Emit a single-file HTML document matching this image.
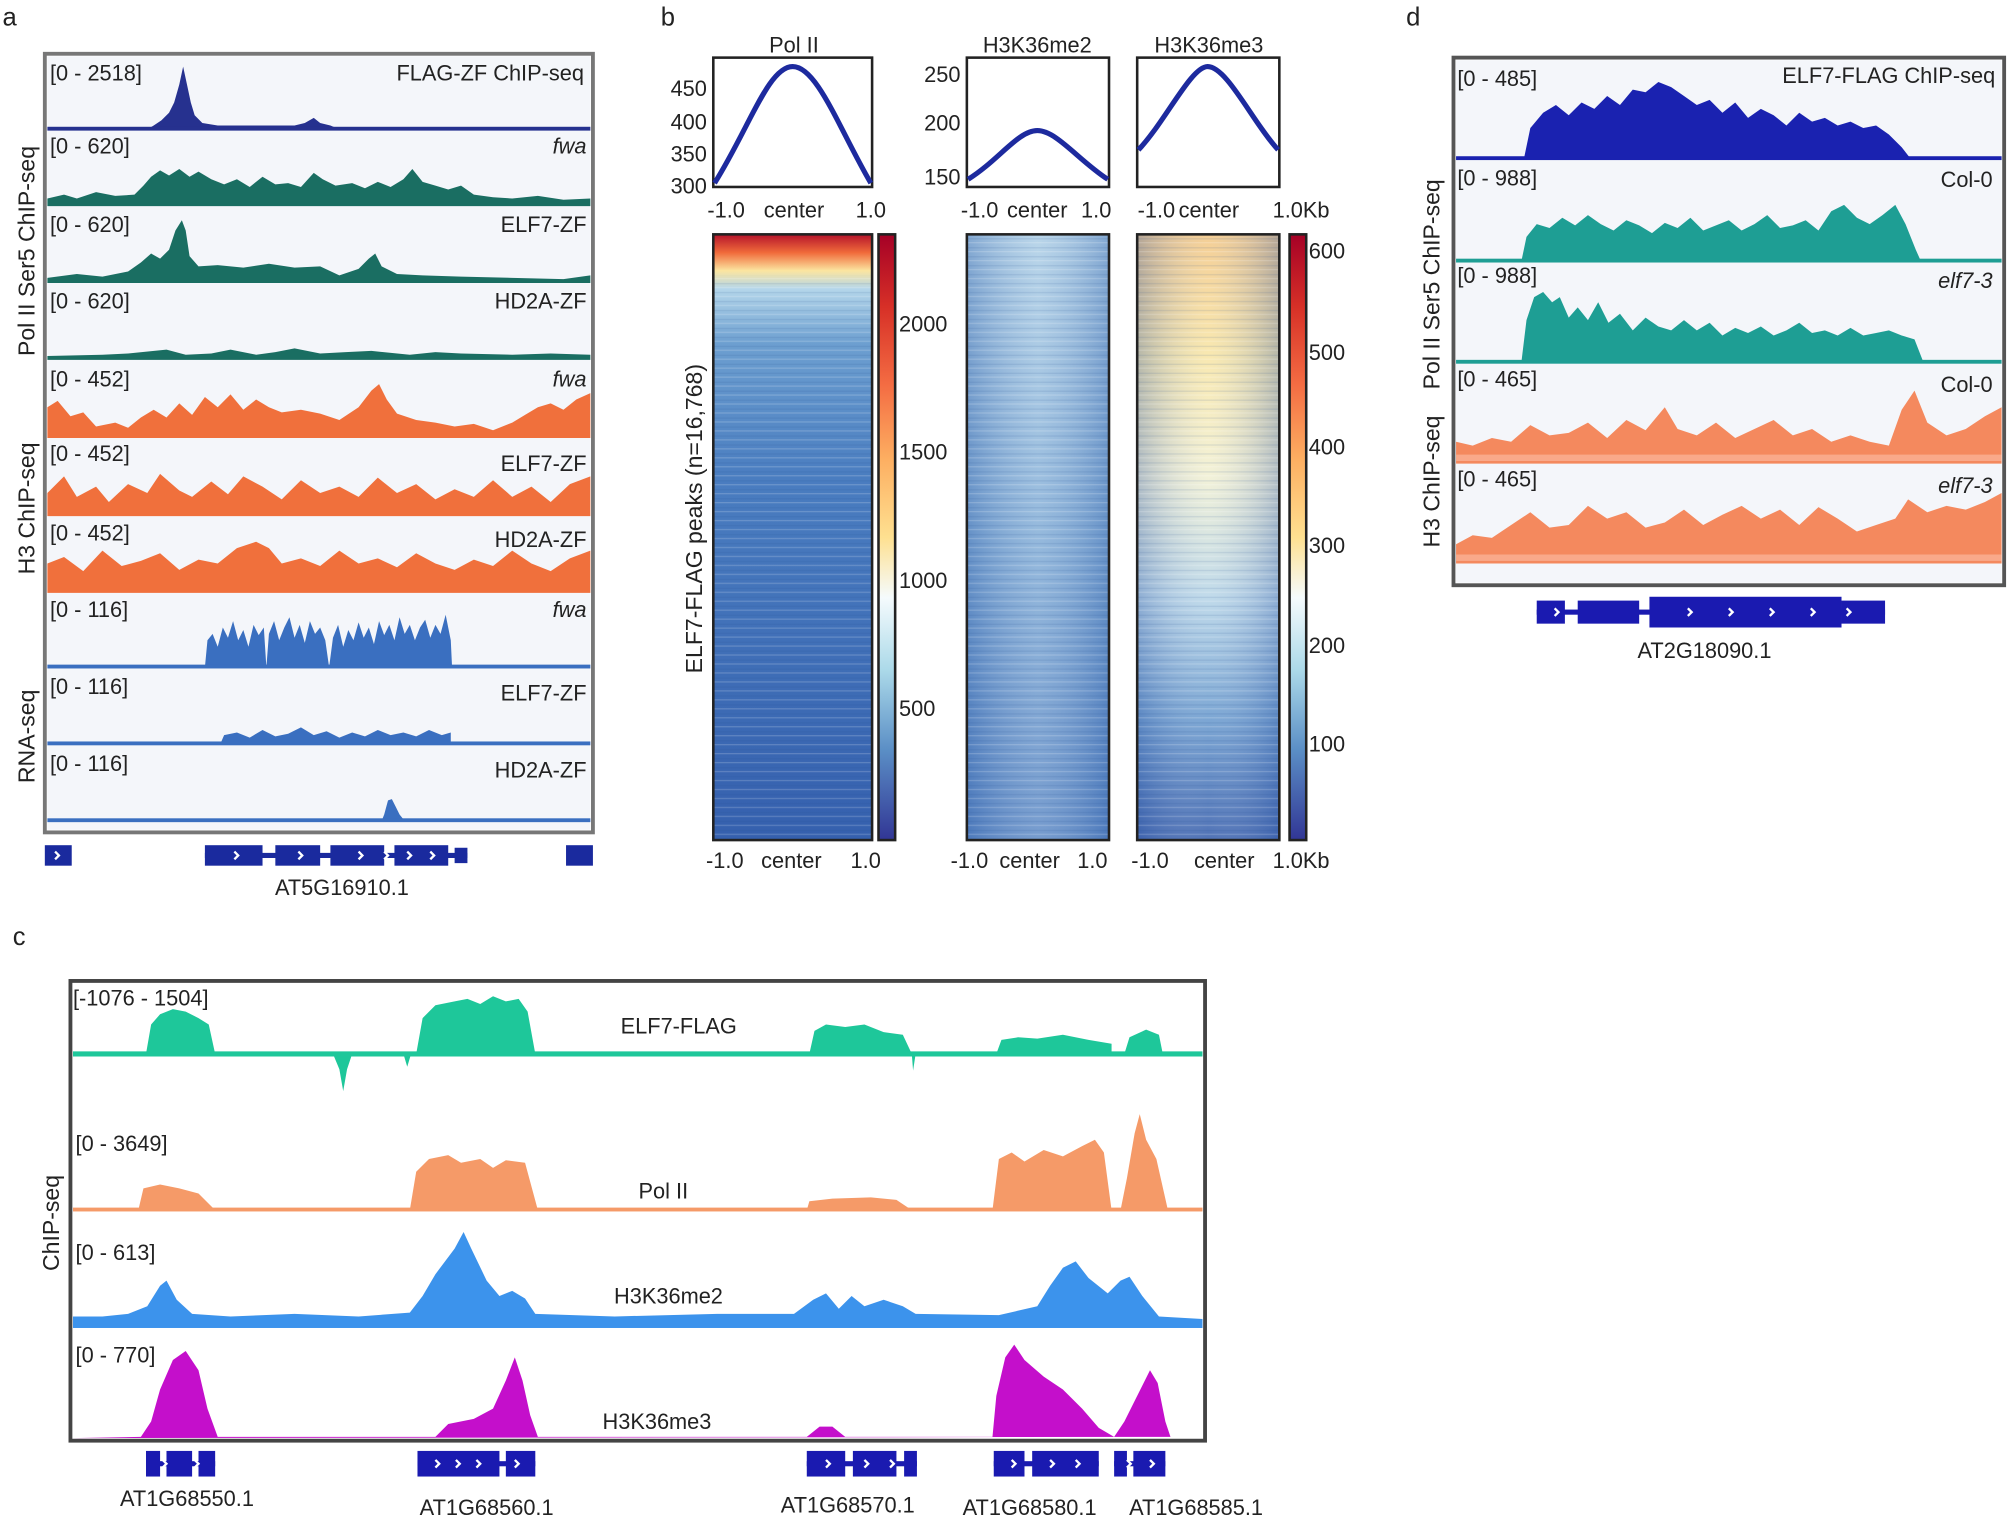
<!DOCTYPE html>
<html><head><meta charset="utf-8"><style>
html,body{margin:0;padding:0;background:#fff}
svg{display:block}
text{font-family:"Liberation Sans",Arial,sans-serif;fill:#222}
</style></head><body>
<svg width="2008" height="1517" viewBox="0 0 1568 1184.6" xmlns="http://www.w3.org/2000/svg">
<defs>
<linearGradient id="cb" x1="0" y1="0" x2="0" y2="1">
<stop offset="0" stop-color="#a50026"/><stop offset="0.12" stop-color="#d73027"/><stop offset="0.25" stop-color="#f46d43"/><stop offset="0.37" stop-color="#fdae61"/><stop offset="0.5" stop-color="#fee090"/><stop offset="0.6" stop-color="#f5fbfd"/><stop offset="0.72" stop-color="#abd9e9"/><stop offset="0.85" stop-color="#5b8fc6"/><stop offset="1" stop-color="#313695"/>
</linearGradient>
<linearGradient id="h1" x1="0" y1="0" x2="0" y2="1">
<stop offset="0" stop-color="#b5132b"/><stop offset="0.03" stop-color="#f06a3a"/><stop offset="0.06" stop-color="#fbe5a0"/><stop offset="0.09" stop-color="#b4d6ea"/><stop offset="0.18" stop-color="#6d9fd0"/><stop offset="0.4" stop-color="#4a7dc0"/><stop offset="1" stop-color="#3560ae"/>
</linearGradient>
<linearGradient id="h2" x1="0" y1="0" x2="0" y2="1">
<stop offset="0" stop-color="#a8cbe4"/><stop offset="0.5" stop-color="#7ba8d4"/><stop offset="1" stop-color="#5483c2"/>
</linearGradient>
<linearGradient id="h2x" x1="0" y1="0" x2="1" y2="0">
<stop offset="0" stop-color="#3a64ae" stop-opacity="0.35"/><stop offset="0.5" stop-color="#fff" stop-opacity="0.2"/><stop offset="1" stop-color="#3a64ae" stop-opacity="0.35"/>
</linearGradient>
<linearGradient id="h3" x1="0" y1="0" x2="0" y2="1">
<stop offset="0" stop-color="#f3c98a"/><stop offset="0.2" stop-color="#f8e6a8"/><stop offset="0.4" stop-color="#f1f0d4"/><stop offset="0.6" stop-color="#b9d6e8"/><stop offset="0.8" stop-color="#6e9dcf"/><stop offset="1" stop-color="#3d63ae"/>
</linearGradient>
<linearGradient id="h3x" x1="0" y1="0" x2="1" y2="0">
<stop offset="0" stop-color="#3a5fab" stop-opacity="0.35"/><stop offset="0.5" stop-color="#fff" stop-opacity="0.1"/><stop offset="1" stop-color="#3a5fab" stop-opacity="0.35"/>
</linearGradient>
<pattern id="strp" width="8" height="7" patternUnits="userSpaceOnUse">
<rect x="0" y="0" width="8" height="1" fill="#ffffff" opacity="0.18"/><rect x="0" y="4" width="8" height="1" fill="#24488f" opacity="0.12"/>
</pattern>
</defs>

<!-- backgrounds -->
<rect x="37" y="44" width="424" height="604" fill="#f4f6fa"/>
<rect x="1137" y="47" width="426" height="408" fill="#f4f6fa"/>

<!-- panel a tracks -->
<path fill="#26318f" d="M37,101 L115,101 L120,98 L126,94 L132,88 L136,80 L140,66 L143,52 L146,66 L149,80 L152,90 L158,96 L170,98 L230,98 L238,96 L245,92 L250,96 L258,98 L265,101 L461,101 Z"/>
<rect x="37" y="99" width="424" height="3" fill="#26318f"/>
<path fill="#1a6e62" d="M37,161 L37,155 L50,152 L60,155 L75,150 L90,153 L105,152 L112,145 L118,138 L125,133 L132,137 L140,132 L148,138 L155,134 L165,140 L175,144 L185,140 L195,146 L205,138 L215,144 L225,143 L235,146 L245,135 L252,140 L262,145 L275,143 L285,147 L295,142 L305,146 L315,140 L322,132 L330,142 L340,145 L350,148 L360,145 L370,152 L385,154 L400,155 L420,153 L440,156 L461,155 L461,161 Z"/>
<path fill="#1a6e62" d="M37,221 L37,217 L60,214 L80,216 L100,212 L110,205 L118,198 L125,202 L132,195 L137,180 L142,172 L145,180 L148,200 L155,208 L170,207 L190,209 L210,206 L230,209 L250,208 L265,215 L280,210 L288,202 L293,198 L298,208 L310,214 L330,215 L360,216 L400,217 L440,218 L461,215 L461,221 Z"/>
<path fill="#1a6e62" d="M37,281 L37,278 L80,277 L100,276 L130,273 L145,277 L165,276 L180,273 L200,277 L215,275 L230,272 L250,276 L270,275 L290,274 L320,277 L340,275 L360,276 L400,277 L430,276 L461,277 L461,281 Z"/>
<path fill="#f0703c" d="M37,342 L37,318 L45,313 L55,325 L65,322 L75,333 L90,330 L100,334 L110,326 L120,320 L130,326 L140,315 L150,324 L160,310 L170,318 L180,308 L190,320 L200,312 L210,318 L220,322 L235,320 L250,323 L265,328 L280,318 L290,305 L296,300 L302,312 L310,323 L325,328 L340,330 L355,333 L370,331 L385,336 L400,330 L410,324 L420,318 L430,315 L440,320 L450,312 L461,307 L461,342 Z"/>
<path fill="#f0703c" d="M37,403 L37,385 L50,372 L60,388 L75,380 L85,392 L100,378 L115,385 L125,370 L140,383 L150,388 L165,376 L178,386 L190,372 L205,380 L220,390 L235,375 L250,385 L265,380 L280,388 L295,373 L310,385 L325,378 L340,390 L355,382 L370,388 L385,375 L400,388 L415,380 L430,392 L445,378 L461,372 L461,403 Z"/>
<path fill="#f0703c" d="M37,463 L37,440 L50,435 L65,446 L80,430 L95,442 L110,438 L125,432 L140,445 L155,437 L170,440 L185,428 L200,423 L210,428 L220,440 L235,436 L250,442 L265,430 L280,440 L295,436 L310,443 L325,432 L340,440 L355,445 L370,437 L385,442 L400,430 L415,440 L430,446 L445,436 L461,430 L461,463 Z"/>
<path fill="#3a6fc0" d="M160,521 L162,500 L166,495 L170,505 L174,490 L178,498 L182,485 L186,500 L190,492 L194,505 L198,488 L202,496 L206,490 L208,521 L210,495 L214,485 L218,500 L222,490 L226,482 L230,498 L234,488 L238,502 L242,485 L246,495 L250,490 L254,500 L257,521 L260,498 L264,488 L268,505 L272,492 L276,500 L280,486 L284,498 L288,490 L292,503 L296,485 L300,496 L304,488 L308,500 L312,482 L316,495 L320,488 L324,500 L328,490 L332,484 L336,498 L340,488 L344,495 L348,480 L352,500 L353,521 Z"/>
<rect x="37" y="519" width="424" height="3" fill="#3a6fc0"/>
<path fill="#3a6fc0" d="M172,581 L175,574 L185,572 L195,576 L205,570 L215,575 L225,573 L235,568 L245,574 L255,571 L265,576 L275,572 L285,575 L295,570 L305,574 L315,572 L325,575 L335,570 L345,574 L352,572 L352,581 Z"/>
<rect x="37" y="579" width="424" height="3" fill="#3a6fc0"/>
<path fill="#3a6fc0" d="M298,641 L300,636 L303,625 L306,624 L309,630 L312,636 L316,641 Z"/>
<rect x="37" y="639" width="424" height="3" fill="#3a6fc0"/>

<!-- panel d tracks -->
<path fill="#1a22b0" d="M1190,124 L1195,100 L1205,88 L1215,82 L1225,90 L1235,80 L1245,85 L1255,75 L1265,82 L1275,70 L1285,72 L1295,64 L1305,68 L1315,75 L1325,82 L1335,78 L1345,88 L1355,80 L1365,92 L1375,85 L1385,90 L1395,98 L1405,88 L1415,95 L1425,92 L1435,98 L1445,95 L1455,100 L1465,98 L1475,105 L1485,115 L1492,124 Z"/>
<rect x="1137" y="122" width="426" height="3" fill="#1a22b0"/>
<path fill="#1e9e94" d="M1188,204 L1192,185 L1200,175 L1210,178 L1220,170 L1230,176 L1240,168 L1250,175 L1260,180 L1270,172 L1280,176 L1290,182 L1300,174 L1310,178 L1320,170 L1330,180 L1340,176 L1350,172 L1360,180 L1370,175 L1380,168 L1390,178 L1400,176 L1410,172 L1420,180 L1430,165 L1440,160 L1450,170 L1460,175 L1470,168 L1480,160 L1488,175 L1496,195 L1500,204 Z"/>
<rect x="1137" y="202" width="426" height="3" fill="#1e9e94"/>
<path fill="#1e9e94" d="M1188,283 L1192,250 L1198,232 L1205,228 L1212,236 L1218,232 L1225,248 L1232,240 L1240,250 L1248,236 L1256,252 L1265,245 L1275,258 L1285,248 L1295,255 L1305,258 L1315,250 L1325,258 L1335,252 L1345,262 L1355,256 L1365,260 L1375,255 L1385,262 L1395,258 L1405,252 L1415,260 L1425,258 L1435,262 L1445,256 L1455,262 L1465,260 L1475,258 L1485,262 L1495,265 L1502,283 Z"/>
<rect x="1137" y="281" width="426" height="3" fill="#1e9e94"/>
<path fill="#f4895e" d="M1137,362 L1137,345 L1150,348 L1165,342 L1180,345 L1195,332 L1210,340 L1225,338 L1240,330 L1255,342 L1270,328 L1285,336 L1300,318 L1310,335 L1325,340 L1340,330 L1355,342 L1370,335 L1385,328 L1400,340 L1415,335 L1430,345 L1445,340 L1460,345 L1475,348 L1485,320 L1495,305 L1505,330 L1520,340 L1535,335 L1550,325 L1563,318 L1563,362 Z"/>
<rect x="1137" y="355" width="426" height="5" fill="#f9a98a"/>
<path fill="#f4895e" d="M1137,440 L1137,425 L1150,418 L1165,420 L1180,410 L1195,400 L1210,412 L1225,410 L1240,395 L1255,405 L1270,400 L1285,412 L1300,408 L1315,398 L1330,410 L1345,402 L1360,395 L1375,405 L1390,398 L1405,410 L1420,396 L1435,405 L1450,415 L1465,410 L1480,405 L1490,390 L1505,400 L1520,395 L1535,398 L1550,392 L1563,385 L1563,440 Z"/>
<rect x="1137" y="433" width="426" height="5" fill="#f9a98a"/>

<!-- panel c tracks -->
<path fill="#1ec79a" d="M57,823 L114,823 L118,800 L125,792 L135,788 L145,790 L155,795 L163,800 L168,823 L260,823 L265,835 L268,852 L271,835 L275,823 L315,823 L318,833 L321,823 L325,823 L330,795 L340,785 L355,782 L365,780 L375,784 L385,778 L395,782 L405,780 L412,790 L418,823 L632,823 L636,805 L645,800 L660,802 L675,800 L690,806 L705,808 L712,823 L713,836 L715,823 L778,823 L782,812 L795,810 L810,811 L830,808 L850,812 L868,815 L868,823 L878,823 L882,810 L895,804 L905,808 L908,823 L939,823 Z"/>
<rect x="57" y="821" width="882" height="4" fill="#1ec79a"/>
<path fill="#f59a68" d="M57,945 L108,945 L112,928 L125,925 L140,928 L155,932 L168,945 L320,945 L325,915 L335,905 L350,902 L360,908 L375,905 L385,912 L395,906 L410,908 L420,945 L630,945 L632,938 L650,936 L680,935 L700,937 L712,945 L775,945 L780,905 L790,900 L800,907 L815,898 L830,903 L845,895 L855,890 L862,900 L868,945 L875,945 L880,920 L886,885 L890,870 L895,890 L903,905 L912,945 L939,945 Z"/>
<rect x="57" y="943" width="882" height="3" fill="#f59a68"/>
<path fill="#3c93ec" d="M57,1036 L57,1028 L80,1028 L100,1026 L115,1020 L125,1004 L130,1000 L138,1015 L150,1026 L180,1028 L230,1026 L280,1028 L320,1025 L330,1012 L340,995 L355,975 L362,962 L368,975 L380,1000 L390,1012 L400,1008 L410,1014 L418,1026 L480,1028 L560,1026 L620,1026 L635,1015 L645,1010 L655,1022 L665,1012 L675,1020 L690,1015 L705,1020 L715,1026 L780,1027 L810,1020 L820,1004 L830,990 L840,985 L850,998 L865,1010 L875,1000 L882,997 L892,1012 L905,1028 L939,1030 L939,1036 Z"/>
<rect x="57" y="1034" width="882" height="3" fill="#3c93ec"/>
<path fill="#c40fcb" d="M57,1123 L110,1122 L118,1110 L125,1085 L135,1062 L145,1055 L155,1070 L162,1100 L170,1122 L340,1122 L350,1112 L370,1108 L385,1100 L395,1078 L402,1060 L408,1078 L414,1105 L420,1122 L630,1122 L640,1114 L650,1114 L660,1122 L775,1122 L778,1090 L785,1060 L792,1050 L800,1062 L815,1075 L830,1085 L845,1100 L858,1115 L870,1122 L878,1110 L888,1090 L898,1070 L904,1080 L910,1110 L914,1122 L939,1122 Z"/>

<!-- gene models -->
<g fill="#1a2a9e">
<rect x="35" y="660" width="21" height="16"/>
<rect x="160" y="666" width="205" height="4"/>
<rect x="160" y="660" width="45" height="16"/><rect x="215" y="660" width="35" height="16"/><rect x="258" y="660" width="42" height="16"/><rect x="308" y="660" width="42" height="16"/><rect x="355" y="662" width="10" height="12"/>
<rect x="442" y="660" width="21" height="16"/>
</g>
<g fill="#1a1ab0">
<rect x="1200" y="476" width="272" height="4"/>
<rect x="1200" y="469" width="22" height="18"/><rect x="1232" y="469" width="48" height="18"/><rect x="1288" y="466" width="150" height="24"/><rect x="1438" y="469" width="34" height="18"/>
<rect x="114" y="1141" width="54" height="4"/><rect x="114" y="1133" width="11" height="20"/><rect x="130" y="1133" width="20" height="20"/><rect x="155" y="1133" width="13" height="20"/>
<rect x="326" y="1141" width="92" height="4"/><rect x="326" y="1133" width="64" height="20"/><rect x="395" y="1133" width="23" height="20"/>
<rect x="630" y="1141" width="86" height="4"/><rect x="630" y="1133" width="30" height="20"/><rect x="666" y="1133" width="34" height="20"/><rect x="706" y="1133" width="10" height="20"/>
<rect x="776" y="1141" width="82" height="4"/><rect x="776" y="1133" width="24" height="20"/><rect x="806" y="1133" width="52" height="20"/>
<rect x="870" y="1141" width="40" height="4"/><rect x="870" y="1133" width="10" height="20"/><rect x="885" y="1133" width="25" height="20"/>
</g>
<g fill="none" stroke="#fff" stroke-width="1.8">
<path d="M43,665 L46,668 L43,671"/>
<path d="M183,665 L186,668 L183,671 M233,665 L236,668 L233,671 M280,665 L283,668 L280,671 M300,665 L303,668 L300,671 M318,665 L321,668 L318,671 M336,665 L339,668 L336,671"/>
<path d="M1214,475 L1217,478 L1214,481 M1318,475 L1321,478 L1318,481 M1350,475 L1353,478 L1350,481 M1382,475 L1385,478 L1382,481 M1414,475 L1417,478 L1414,481 M1442,475 L1445,478 L1442,481"/>
<path d="M127,1140 L130,1143 L127,1146 M152,1140 L155,1143 L152,1146 M340,1140 L343,1143 L340,1146 M356,1140 L359,1143 L356,1146 M372,1140 L375,1143 L372,1146 M402,1140 L405,1143 L402,1146 M645,1140 L648,1143 L645,1146 M675,1140 L678,1143 L675,1146 M695,1140 L698,1143 L695,1146 M790,1140 L793,1143 L790,1146 M820,1140 L823,1143 L820,1146 M840,1140 L843,1143 L840,1146 M880,1140 L883,1143 L880,1146 M898,1140 L901,1143 L898,1146"/>
</g>

<!-- panel letters -->
<text x="2" y="20" font-size="20">a</text>
<text x="516" y="20" font-size="20">b</text>
<text x="1098" y="20" font-size="20">d</text>
<text x="10" y="738" font-size="20">c</text>

<!-- panel a labels -->
<rect x="35" y="42" width="428" height="608" fill="none" stroke="#777" stroke-width="3"/>
<g font-size="17">
<text x="39" y="63">[0 - 2518]</text><text x="456" y="63" text-anchor="end">FLAG-ZF ChIP-seq</text>
<text x="39" y="120">[0 - 620]</text><text x="458" y="120" text-anchor="end" font-style="italic">fwa</text>
<text x="39" y="181">[0 - 620]</text><text x="458" y="181" text-anchor="end">ELF7-ZF</text>
<text x="39" y="241">[0 - 620]</text><text x="458" y="241" text-anchor="end">HD2A-ZF</text>
<text x="39" y="302">[0 - 452]</text><text x="458" y="302" text-anchor="end" font-style="italic">fwa</text>
<text x="39" y="360">[0 - 452]</text><text x="458" y="368" text-anchor="end">ELF7-ZF</text>
<text x="39" y="422">[0 - 452]</text><text x="458" y="427" text-anchor="end">HD2A-ZF</text>
<text x="39" y="482">[0 - 116]</text><text x="458" y="482" text-anchor="end" font-style="italic">fwa</text>
<text x="39" y="542">[0 - 116]</text><text x="458" y="547" text-anchor="end">ELF7-ZF</text>
<text x="39" y="602">[0 - 116]</text><text x="458" y="607" text-anchor="end">HD2A-ZF</text>
</g>
<g font-size="18">
<text transform="translate(27,196) rotate(-90)" text-anchor="middle">Pol II Ser5 ChIP-seq</text>
<text transform="translate(27,397) rotate(-90)" text-anchor="middle">H3 ChIP-seq</text>
<text transform="translate(27,575) rotate(-90)" text-anchor="middle">RNA-seq</text>
</g>
<text x="267" y="699" font-size="17" text-anchor="middle">AT5G16910.1</text>

<!-- panel b -->
<g font-size="17">
<text x="620" y="41" text-anchor="middle">Pol II</text>
<text x="810" y="41" text-anchor="middle">H3K36me2</text>
<text x="944" y="41" text-anchor="middle">H3K36me3</text>
</g>
<g fill="none" stroke="#222" stroke-width="2">
<rect x="557" y="45" width="124" height="101"/>
<rect x="755" y="45" width="111" height="101"/>
<rect x="888" y="45" width="111" height="101"/>
</g>
<g fill="none" stroke="#1d2a9e" stroke-width="4">
<path d="M558,143 C585,100 600,52 619,52 C638,52 655,100 680,143"/>
<path d="M756,140 C780,125 795,102 810,102 C825,102 842,125 865,140"/>
<path d="M889,117 C910,95 930,52 943,52 C958,52 978,95 998,117"/>
</g>
<g font-size="17" text-anchor="end">
<text x="552" y="75">450</text><text x="552" y="101">400</text><text x="552" y="126">350</text><text x="552" y="151">300</text>
<text x="750" y="64">250</text><text x="750" y="102">200</text><text x="750" y="144">150</text>
</g>
<g font-size="17" text-anchor="middle">
<text x="567" y="170">-1.0</text><text x="620" y="170">center</text><text x="680" y="170">1.0</text>
<text x="765" y="170">-1.0</text><text x="810" y="170">center</text><text x="856" y="170">1.0</text>
<text x="903" y="170">-1.0</text><text x="944" y="170">center</text><text x="1016" y="170">1.0Kb</text>
<text x="566" y="678">-1.0</text><text x="618" y="678">center</text><text x="676" y="678">1.0</text>
<text x="757" y="678">-1.0</text><text x="804" y="678">center</text><text x="853" y="678">1.0</text>
<text x="898" y="678">-1.0</text><text x="956" y="678">center</text><text x="1016" y="678">1.0Kb</text>
</g>
<rect x="557" y="183" width="124" height="473" fill="url(#h1)"/>
<rect x="755" y="183" width="111" height="473" fill="url(#h2)"/>
<rect x="755" y="183" width="111" height="473" fill="url(#h2x)"/>
<rect x="888" y="183" width="111" height="473" fill="url(#h3)"/>
<rect x="888" y="183" width="111" height="473" fill="url(#h3x)"/>
<rect x="557" y="215" width="124" height="441" fill="url(#strp)"/>
<rect x="755" y="183" width="111" height="473" fill="url(#strp)"/>
<rect x="888" y="183" width="111" height="473" fill="url(#strp)"/>
<g fill="none" stroke="#222" stroke-width="2">
<rect x="557" y="183" width="124" height="473"/>
<rect x="755" y="183" width="111" height="473"/>
<rect x="888" y="183" width="111" height="473"/>
</g>
<rect x="686" y="183" width="13" height="473" fill="url(#cb)" stroke="#222" stroke-width="2"/>
<rect x="1007" y="183" width="13" height="473" fill="url(#cb)" stroke="#222" stroke-width="2"/>
<g font-size="17">
<text x="702" y="259">2000</text><text x="702" y="359">1500</text><text x="702" y="459">1000</text><text x="702" y="559">500</text>
<text x="1022" y="202">600</text><text x="1022" y="281">500</text><text x="1022" y="355">400</text><text x="1022" y="432">300</text><text x="1022" y="510">200</text><text x="1022" y="587">100</text>
</g>
<text transform="translate(548,405) rotate(-90)" font-size="18" text-anchor="middle">ELF7-FLAG peaks (n=16,768)</text>

<!-- panel d labels -->
<rect x="1135" y="45" width="430" height="412" fill="none" stroke="#555" stroke-width="3"/>
<g font-size="17">
<text x="1138" y="67">[0 - 485]</text><text x="1558" y="65" text-anchor="end">ELF7-FLAG ChIP-seq</text>
<text x="1138" y="145">[0 - 988]</text><text x="1556" y="146" text-anchor="end">Col-0</text>
<text x="1138" y="221">[0 - 988]</text><text x="1556" y="225" text-anchor="end" font-style="italic">elf7-3</text>
<text x="1138" y="302">[0 - 465]</text><text x="1556" y="306" text-anchor="end">Col-0</text>
<text x="1138" y="380">[0 - 465]</text><text x="1556" y="385" text-anchor="end" font-style="italic">elf7-3</text>
</g>
<g font-size="18">
<text transform="translate(1124,222) rotate(-90)" text-anchor="middle">Pol II Ser5 ChIP-seq</text>
<text transform="translate(1124,376) rotate(-90)" text-anchor="middle">H3 ChIP-seq</text>
</g>
<text x="1331" y="514" font-size="17" text-anchor="middle">AT2G18090.1</text>

<!-- panel c labels -->
<rect x="55" y="766" width="886" height="359" fill="none" stroke="#444" stroke-width="3"/>
<g font-size="17">
<text x="57" y="785">[-1076 - 1504]</text><text x="530" y="807" text-anchor="middle">ELF7-FLAG</text>
<text x="59" y="899">[0 - 3649]</text><text x="518" y="936" text-anchor="middle">Pol II</text>
<text x="59" y="984">[0 - 613]</text><text x="522" y="1018" text-anchor="middle">H3K36me2</text>
<text x="59" y="1064">[0 - 770]</text><text x="513" y="1116" text-anchor="middle">H3K36me3</text>
</g>
<text transform="translate(46,955) rotate(-90)" font-size="18" text-anchor="middle">ChIP-seq</text>
<g font-size="17" text-anchor="middle">
<text x="146" y="1176">AT1G68550.1</text>
<text x="380" y="1183">AT1G68560.1</text>
<text x="662" y="1181">AT1G68570.1</text>
<text x="804" y="1183">AT1G68580.1</text>
<text x="934" y="1183">AT1G68585.1</text>
</g>
</svg>
</body></html>
